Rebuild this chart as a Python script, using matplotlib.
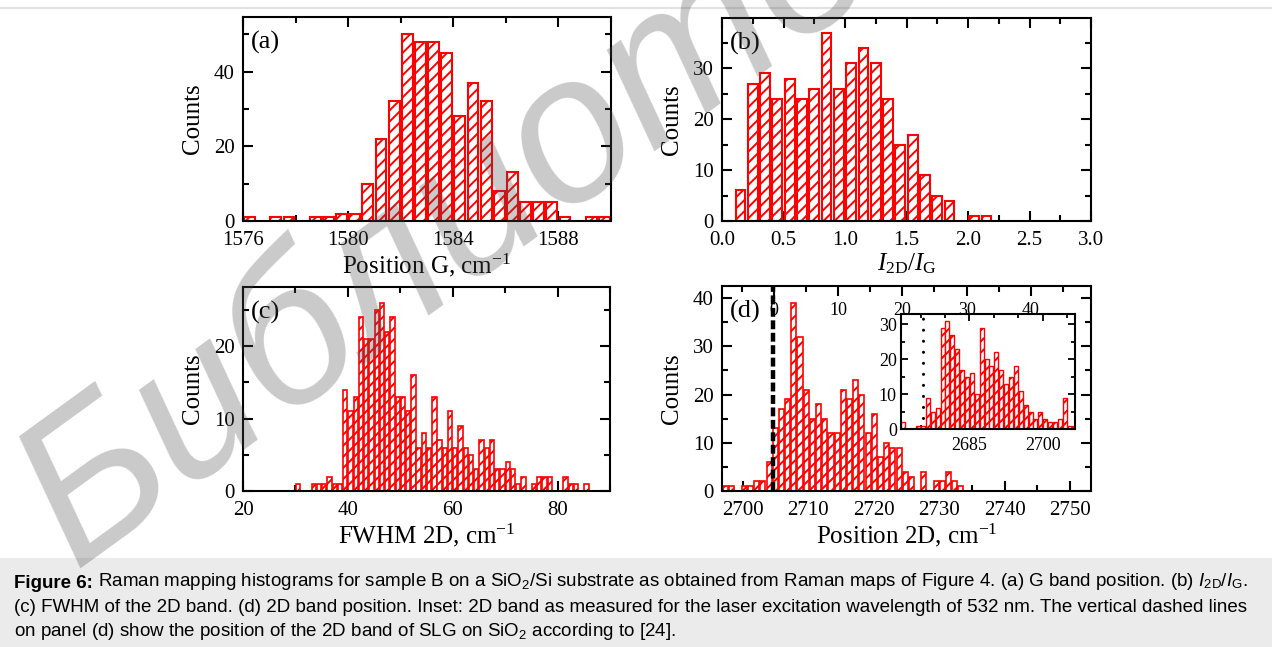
import matplotlib
matplotlib.use("Agg")
import matplotlib.pyplot as plt
import numpy as np
from matplotlib.patches import Rectangle
from matplotlib.lines import Line2D
from matplotlib.ticker import MultipleLocator, FormatStrFormatter

# ---- data ----
# (a) G band position, 0.5 cm-1 bins from 1576
g_start, g_bin = 1576.0, 0.5
g_counts = [1, 0, 1, 1, 0, 1, 1, 2, 2, 10, 22, 32, 50, 48, 48, 45, 28, 37, 32, 8,
            13, 5, 5, 5, 1, 0, 1, 1]

# (b) I2D/IG, 0.1 bins from 0.1
r_start, r_bin = 0.1, 0.1
r_counts = [6, 27, 29, 24, 28, 24, 26, 37, 26, 31, 34, 31, 24, 15, 17, 9, 5, 4, 0, 1, 1]

# (c) FWHM 2D, 1 cm-1 bins from 30
w_start, w_bin = 30.0, 1.0
w_counts = [1, 0, 0, 1, 1, 1, 2, 1, 1, 14, 11, 13, 24, 21, 21, 25, 26, 22, 24, 13,
            13, 11, 16, 6, 8, 6, 13, 7, 6, 11, 6, 9, 6, 5, 3, 7, 6, 7, 3, 3,
            4, 3, 1, 2, 0, 1, 2, 2, 2, 0, 0, 2, 1, 1, 0, 1]

# (d) 2D position
p_start, p_bin = 2696.9, 0.946
p_counts = [1, 1, 0, 1, 1, 2, 2, 6, 13, 17, 19, 39, 32, 21, 15, 18, 15, 12, 12, 21,
            19, 23, 20, 12, 16, 7, 10, 9, 9, 4, 3, 0, 4, 0, 2, 2, 4, 2, 1]
slg_2d = 2704.6

# inset: 2D position at 532 nm
i_start, i_bin = 2671.0, 1.0
i_counts = [2, 0, 0, 1, 1, 9, 5, 6, 29, 31, 27, 23, 17, 15, 16, 10, 29, 20, 18, 22,
            17, 13, 15, 18, 11, 7, 5, 3, 5, 3, 2, 2, 3, 9, 1, 1]
slg_2d_532 = 2675.4

caption1 = " Raman mapping histograms for sample B on a $\\mathsf{SiO_2}$/Si substrate as obtained from Raman maps of Figure 4. (a) G band position. (b) $\\mathbf{I}_\\mathsf{2D}$/$\\mathbf{I}_\\mathsf{G}$."
caption2 = "(c) FWHM of the 2D band. (d) 2D band position. Inset: 2D band as measured for the laser excitation wavelength of 532 nm. The vertical dashed lines"
caption3 = "on panel (d) show the position of the 2D band of SLG on $\\mathsf{SiO_2}$ according to [24]."

plt.rcParams['font.family'] = ['Liberation Serif', 'DejaVu Serif']
plt.rcParams['mathtext.fontset'] = 'custom'
plt.rcParams['mathtext.rm'] = 'Liberation Serif'
plt.rcParams['mathtext.it'] = 'Liberation Serif:italic'
plt.rcParams['mathtext.sf'] = 'Liberation Sans'
plt.rcParams['mathtext.bf'] = 'Liberation Sans:italic'
plt.rcParams['hatch.linewidth'] = 1.4
plt.rcParams['axes.linewidth'] = 1.5

W, H = 1272, 647
fig = plt.figure(figsize=(W / 100, H / 100), dpi=100)
LFS = 18     # axis labels
TFS = 15     # tick labels


def box(l, t, r, b):
    return [l / W, 1 - b / H, (r - l) / W, (b - t) / H]


def bars(ax, start, width, counts, frac, lw):
    counts = np.asarray(counts)
    left = start + width * np.arange(len(counts))
    keep = counts > 0
    ax.bar(left[keep] + width * (1 - frac) / 2, counts[keep], width=width * frac,
           align='edge', facecolor='white', edgecolor='red', hatch='///',
           linewidth=lw, zorder=2)


def style(ax):
    ax.tick_params(which='both', direction='in', top=True, right=True, width=1.5,
                   labelsize=TFS, pad=6)
    ax.tick_params(axis='x', which='both', pad=7)
    ax.tick_params(which='major', length=7)
    ax.tick_params(which='minor', length=4)


axa = fig.add_axes(box(243, 17, 611, 221))
bars(axa, g_start, g_bin, g_counts, 0.83, 1.5)
axa.set_xlim(1576, 1590)
axa.set_ylim(0, 54.6)
axa.xaxis.set_major_locator(MultipleLocator(4))
axa.xaxis.set_minor_locator(MultipleLocator(2))
axa.yaxis.set_major_locator(MultipleLocator(20))
axa.yaxis.set_minor_locator(MultipleLocator(10))
axa.set_xlabel("Position G, cm$^{-1}$", fontsize=LFS, labelpad=1)
axa.set_ylabel("Counts", fontsize=LFS, labelpad=7)

axb = fig.add_axes(box(722, 18, 1091, 221))
bars(axb, r_start, r_bin, r_counts, 0.8, 1.5)
axb.set_xlim(0, 3.0)
axb.set_ylim(0, 39.9)
axb.xaxis.set_major_locator(MultipleLocator(0.5))
axb.xaxis.set_minor_locator(MultipleLocator(0.25))
axb.xaxis.set_major_formatter(FormatStrFormatter('%.1f'))
axb.yaxis.set_major_locator(MultipleLocator(10))
axb.yaxis.set_minor_locator(MultipleLocator(5))
axb.set_xlabel("$I_{\\mathrm{2D}}/I_{\\mathrm{G}}$", fontsize=LFS, labelpad=1)
axb.set_ylabel("Counts", fontsize=LFS, labelpad=7)

axc = fig.add_axes(box(243, 287, 610, 491))
bars(axc, w_start, w_bin, w_counts, 0.82, 1.2)
axc.set_xlim(20, 90)
axc.set_ylim(0, 28.2)
axc.xaxis.set_major_locator(MultipleLocator(20))
axc.xaxis.set_minor_locator(MultipleLocator(10))
axc.yaxis.set_major_locator(MultipleLocator(10))
axc.yaxis.set_minor_locator(MultipleLocator(5))
axc.set_xlabel("FWHM 2D, cm$^{-1}$", fontsize=LFS, labelpad=1)
axc.set_ylabel("Counts", fontsize=LFS, labelpad=7)

axd = fig.add_axes(box(722, 286, 1091, 491))
bars(axd, p_start, p_bin, p_counts, 0.82, 1.2)
axd.axvline(slg_2d, color='black', lw=3.2, linestyle=(0, (2, 0.8)), zorder=3)
axd.set_xlim(2696.8, 2753.2)
axd.set_ylim(0, 42.5)
axd.xaxis.set_major_locator(MultipleLocator(10))
axd.xaxis.set_minor_locator(MultipleLocator(5))
axd.yaxis.set_major_locator(MultipleLocator(10))
axd.yaxis.set_minor_locator(MultipleLocator(5))
axd.set_xlabel("Position 2D, cm$^{-1}$", fontsize=LFS, labelpad=1)
axd.set_ylabel("Counts", fontsize=LFS, labelpad=7)

for ax in (axa, axb, axc, axd):
    style(ax)
axd.tick_params(which='both', top=False)

# top scale of panel (d)
t0, ts = 2704.7, 0.983
sec = axd.secondary_xaxis('top', functions=(lambda x: (x - t0) / ts, lambda t: t * ts + t0))
sec.xaxis.set_major_locator(MultipleLocator(10))
sec.xaxis.set_minor_locator(MultipleLocator(5))
sec.tick_params(which='both', direction='in', width=1.5, labelsize=13, pad=-24)
sec.tick_params(which='major', length=7)
sec.tick_params(which='minor', length=4)
sec.spines['top'].set_visible(False)

for ax, lab in ((axa, '(a)'), (axb, '(b)'), (axc, '(c)'), (axd, '(d)')):
    ax.text(0.022, 0.93, lab, transform=ax.transAxes, ha='left', va='top', fontsize=19)

axi = fig.add_axes(box(901, 314, 1075, 429))
bars(axi, i_start, i_bin, i_counts, 0.82, 1.0)
axi.axvline(slg_2d_532, color='black', lw=2.2, linestyle=(0, (0.01, 3.6)),
            dash_capstyle='round', zorder=3)
axi.set_xlim(2671, 2706.6)
axi.set_ylim(0, 33)
axi.xaxis.set_major_locator(MultipleLocator(15))
axi.xaxis.set_minor_locator(MultipleLocator(5))
axi.yaxis.set_major_locator(MultipleLocator(10))
axi.yaxis.set_minor_locator(MultipleLocator(5))
axi.tick_params(which='both', direction='in', top=True, right=True, width=1.3,
                labelsize=13, pad=3)
axi.tick_params(axis='x', which='both', pad=6)
axi.tick_params(which='major', length=5)
axi.tick_params(which='minor', length=3)

# caption box and thin top rule
fig.add_artist(Rectangle((0, 0), 1, 89 / H, transform=fig.transFigure,
                         facecolor='#ebebeb', edgecolor='none', zorder=0))
fig.add_artist(Line2D([0, 1], [1 - 8 / H, 1 - 8 / H], transform=fig.transFigure,
                      color='#e2e2e2', lw=1.5))

cap = fig.add_axes([0, 0, 1, 1], zorder=5)
cap.axis('off')
cap.set_xlim(0, W)
cap.set_ylim(H, 0)
cfs = 13.5
t1 = cap.text(14, 582, "Figure 6:", fontweight='bold', family='Liberation Sans',
              fontsize=cfs, va='center_baseline')
cap.annotate(caption1, xy=(1, 0), xycoords=t1, va='bottom', ha='left',
             family='Liberation Sans', fontsize=cfs)
cap.text(14, 606, caption2, family='Liberation Sans', fontsize=cfs, va='center_baseline')
cap.text(14, 629, caption3, family='Liberation Sans', fontsize=cfs, va='center_baseline')

# watermark
fig.text(75 / W, 1 - 568 / H, "Библиотека", rotation=36, rotation_mode='anchor',
         ha='left', va='baseline', fontsize=150, color='#4d4d4d', alpha=0.3,
         style='italic', family='Liberation Sans', zorder=10)

fig.savefig("out.png", dpi=100)
